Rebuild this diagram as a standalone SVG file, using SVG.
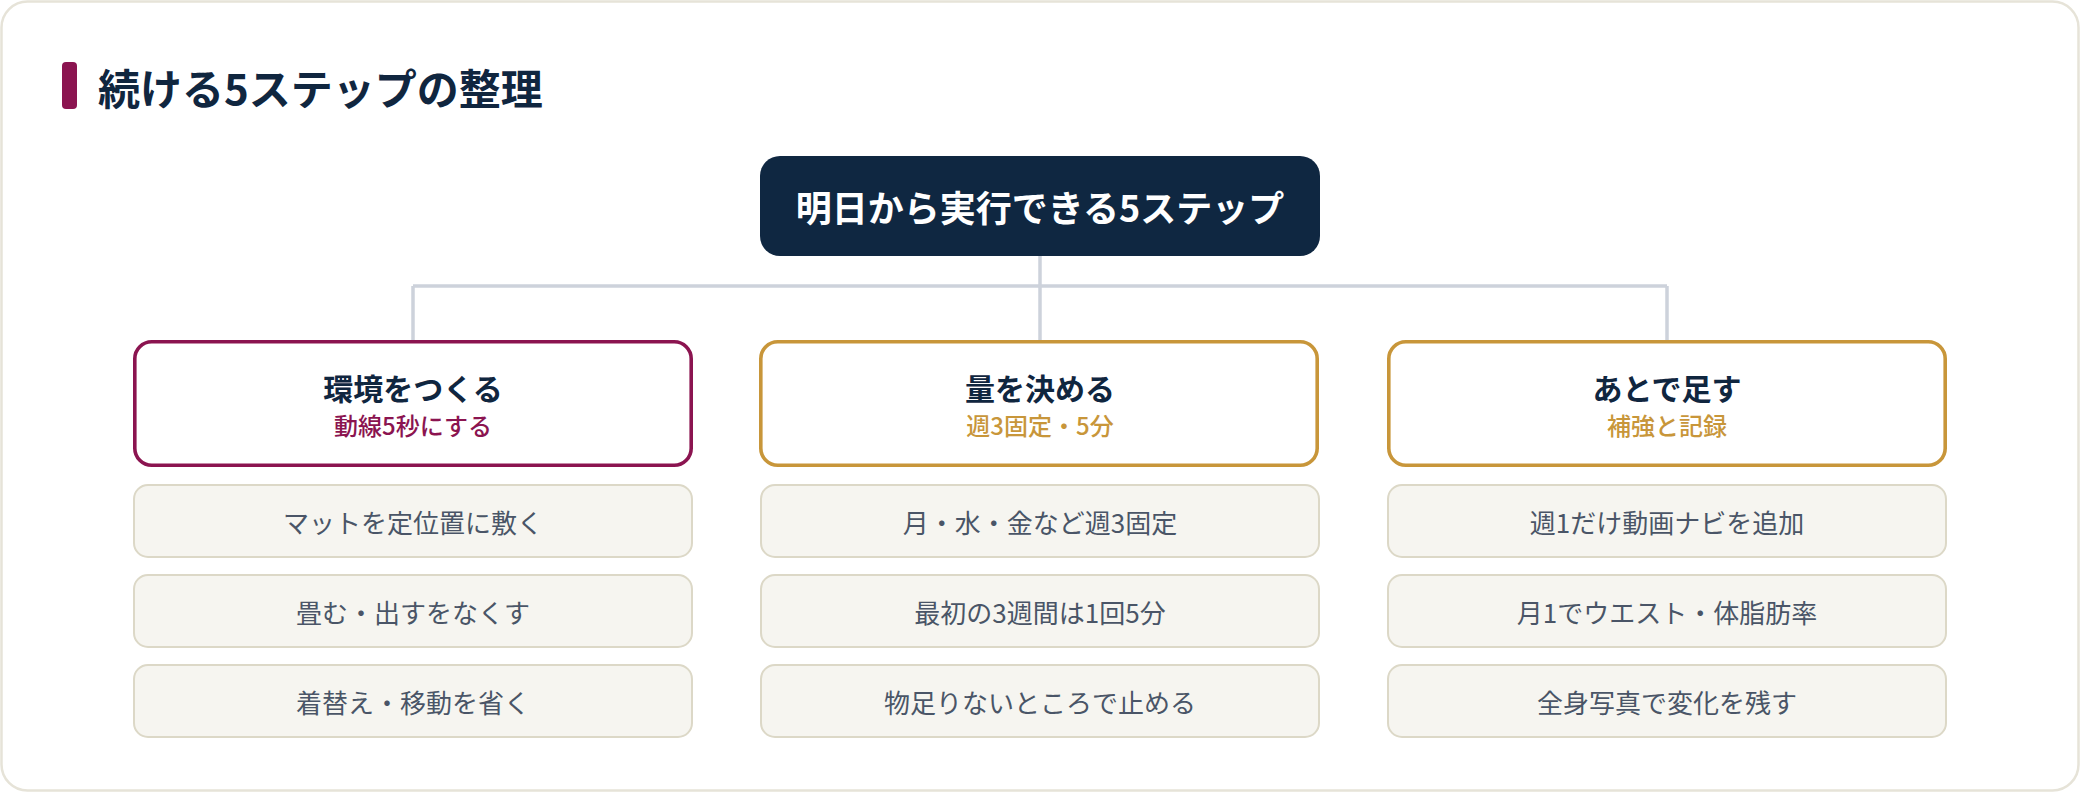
<svg xmlns="http://www.w3.org/2000/svg" width="2080" height="792" viewBox="0 0 2080 792">
<style>
text{font-family:"Noto Sans CJK JP","Noto Sans",sans-serif;}
.title{font-size:42px;font-weight:700;fill:#10263f;}
.root-t{font-size:36px;font-weight:700;fill:#ffffff;text-anchor:middle;}
.h-t{font-size:30px;font-weight:700;fill:#10263f;text-anchor:middle;}
.sub{font-size:24px;font-weight:500;text-anchor:middle;}
.item-t{font-size:26px;font-weight:400;fill:#4a5567;text-anchor:middle;}
.hdr{fill:#ffffff;stroke-width:3.6;}
.item{fill:#f6f5f0;stroke:#dcd8c7;stroke-width:2;}
.maroon{stroke:#8b1450;}
.gold{stroke:#c8963a;}
.fm{fill:#8b1450;}
.fg{fill:#c8963a;}
.conn{fill:none;stroke:#cdd2db;stroke-width:3.5;}
</style>
<rect x="1.5" y="1.5" width="2077" height="789" rx="26" fill="#ffffff" stroke="#e6e3d8" stroke-width="2.5"/>
<g id="title">
<rect x="62" y="62" width="15" height="47" rx="4" fill="#8b1450"/>
<text class="title" x="98" y="105">続ける5ステップの整理</text>
</g>
<g id="connectors">
<path class="conn" d="M1040 256 V286 M413 286 H1667 M413 286 V340 M1040 286 V340 M1667 286 V340"/>
</g>
<g id="root">
<rect x="760" y="156" width="560" height="100" rx="20" fill="#0f2741"/>
<text class="root-t" x="1040" y="222">明日から実行できる5ステップ</text>
</g>
<g id="col1-header">
<rect class="hdr maroon" x="134.8" y="341.8" width="556.4" height="123.4" rx="17"/>
<text class="h-t" x="413" y="400">環境をつくる</text>
<text class="sub fm" x="413" y="435">動線5秒にする</text>
</g>
<g id="col1-item1">
<rect class="item" x="134" y="485" width="558" height="72" rx="14"/>
<text class="item-t" x="413" y="533">マットを定位置に敷く</text>
</g>
<g id="col1-item2">
<rect class="item" x="134" y="575" width="558" height="72" rx="14"/>
<text class="item-t" x="413" y="623">畳む・出すをなくす</text>
</g>
<g id="col1-item3">
<rect class="item" x="134" y="665" width="558" height="72" rx="14"/>
<text class="item-t" x="413" y="713">着替え・移動を省く</text>
</g>
<g id="col2-header">
<rect class="hdr gold" x="760.8" y="341.8" width="556.4" height="123.4" rx="17"/>
<text class="h-t" x="1040" y="400">量を決める</text>
<text class="sub fg" x="1040" y="435">週3固定・5分</text>
</g>
<g id="col2-item1">
<rect class="item" x="761" y="485" width="558" height="72" rx="14"/>
<text class="item-t" x="1040" y="533">月・水・金など週3固定</text>
</g>
<g id="col2-item2">
<rect class="item" x="761" y="575" width="558" height="72" rx="14"/>
<text class="item-t" x="1040" y="623">最初の3週間は1回5分</text>
</g>
<g id="col2-item3">
<rect class="item" x="761" y="665" width="558" height="72" rx="14"/>
<text class="item-t" x="1040" y="713">物足りないところで止める</text>
</g>
<g id="col3-header">
<rect class="hdr gold" x="1388.8" y="341.8" width="556.4" height="123.4" rx="17"/>
<text class="h-t" x="1667" y="400">あとで足す</text>
<text class="sub fg" x="1667" y="435">補強と記録</text>
</g>
<g id="col3-item1">
<rect class="item" x="1388" y="485" width="558" height="72" rx="14"/>
<text class="item-t" x="1667" y="533">週1だけ動画ナビを追加</text>
</g>
<g id="col3-item2">
<rect class="item" x="1388" y="575" width="558" height="72" rx="14"/>
<text class="item-t" x="1667" y="623">月1でウエスト・体脂肪率</text>
</g>
<g id="col3-item3">
<rect class="item" x="1388" y="665" width="558" height="72" rx="14"/>
<text class="item-t" x="1667" y="713">全身写真で変化を残す</text>
</g>
</svg>
